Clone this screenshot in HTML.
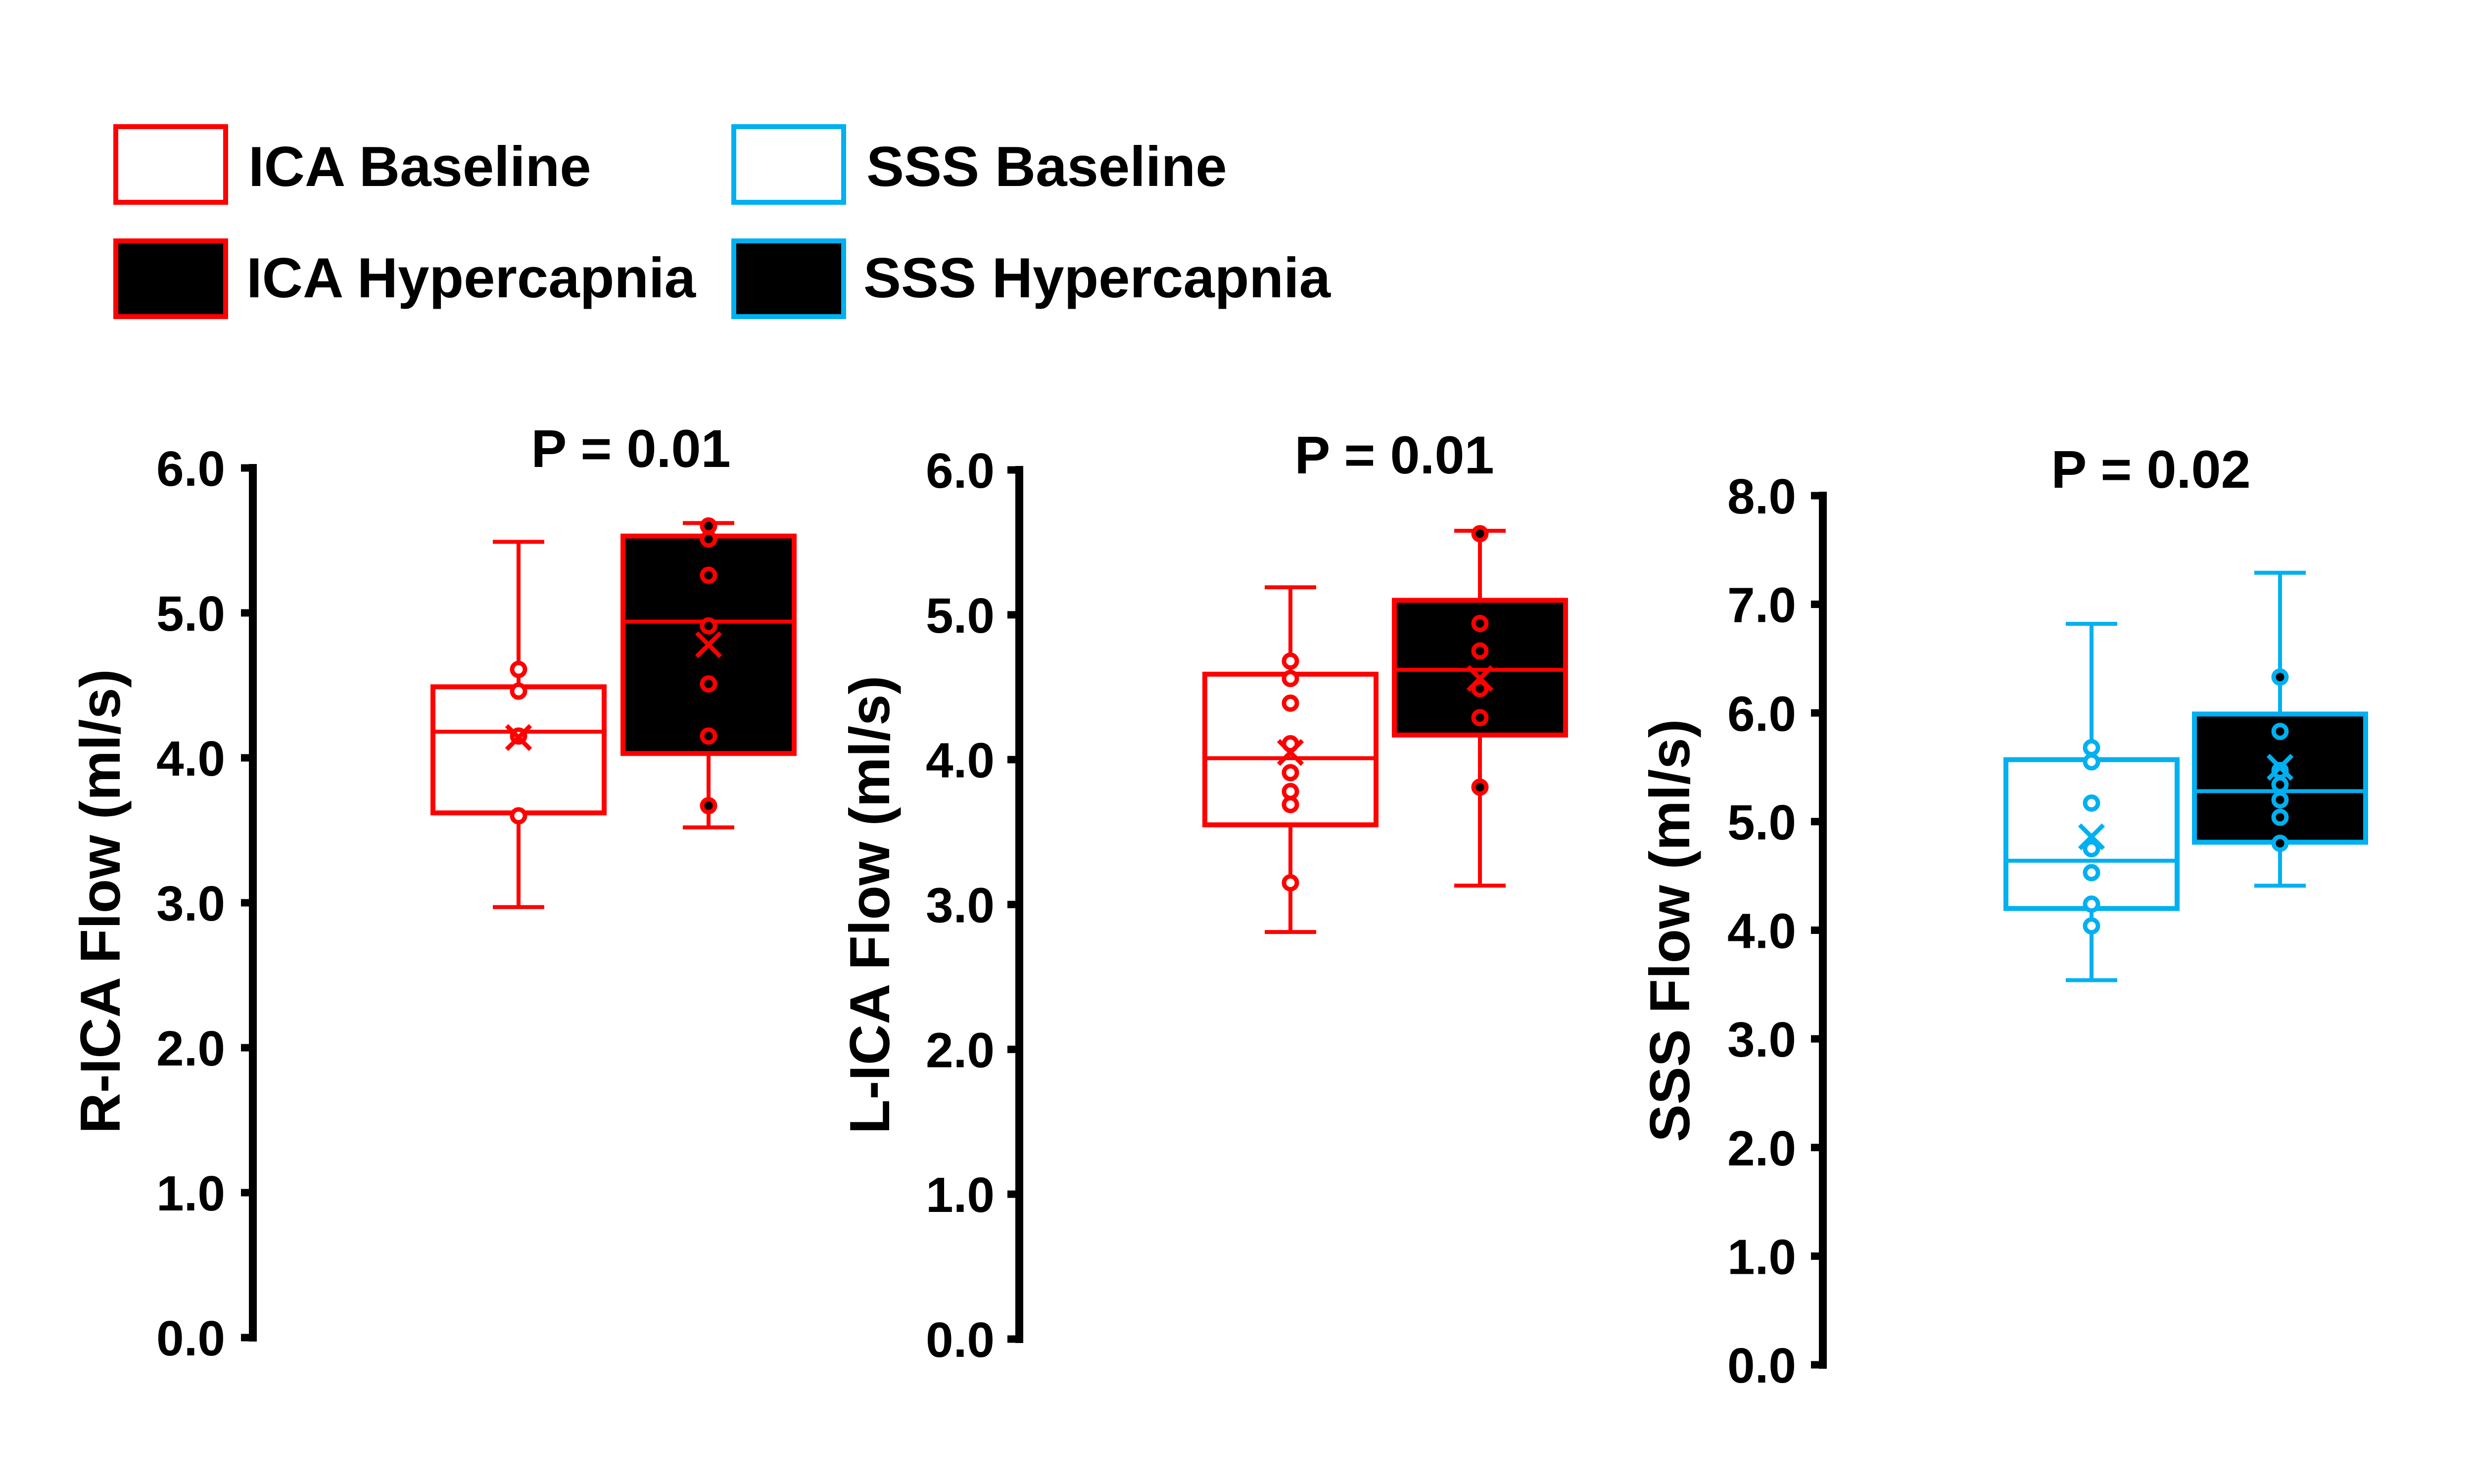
<!DOCTYPE html>
<html><head><meta charset="utf-8"><style>
html,body{margin:0;padding:0;background:#fff;}
svg{display:block;font-family:"Liberation Sans",Arial,sans-serif;font-weight:bold;}
</style></head><body>
<svg id="fig" width="5100" height="3000" viewBox="0 0 5100 3000" xmlns="http://www.w3.org/2000/svg">
<rect width="5100" height="3000" fill="#fff"/>
<g>
  <g>
    <rect x="234" y="256" width="222" height="153" fill="#fff" stroke="#ff0000" stroke-width="10"/>
    <text x="502" y="376" font-size="114">ICA Baseline</text>
  </g>
  <g>
    <rect x="234" y="487" width="222" height="153" fill="#000" stroke="#ff0000" stroke-width="10"/>
    <text x="498" y="601" font-size="114">ICA Hypercapnia</text>
  </g>
  <g>
    <rect x="1483" y="256" width="222" height="153" fill="#fff" stroke="#00b0f0" stroke-width="10"/>
    <text x="1751" y="376" font-size="114">SSS Baseline</text>
  </g>
  <g>
    <rect x="1483" y="487" width="222" height="153" fill="#000" stroke="#00b0f0" stroke-width="10"/>
    <text x="1745" y="601" font-size="114">SSS Hypercapnia</text>
  </g>
</g>
<g id="charts"></g>
</svg>
<script>
// Chart 1: R-ICA
const ricaBaseStats = [2.97, 3.62, 4.18, 4.49, 5.49]; // min,q1,median,q3,max
const ricaBaseMean = 4.14;
const ricaBasePoints = [4.61, 4.46, 4.15, 3.60];
const ricaHypStats = [3.52, 4.03, 4.94, 5.53, 5.62];
const ricaHypMean = 4.78;
const ricaHypPoints = [5.60, 5.51, 5.26, 4.91, 4.51, 4.15, 3.67];
// Chart 2: L-ICA
const licaBaseStats = [2.81, 3.55, 4.01, 4.59, 5.19];
const licaBaseMean = 4.05;
const licaBasePoints = [4.68, 4.56, 4.39, 4.11, 3.91, 3.78, 3.69, 3.15];
const licaHypStats = [3.13, 4.17, 4.62, 5.10, 5.58];
const licaHypMean = 4.56;
const licaHypPoints = [5.56, 4.94, 4.75, 4.49, 4.29, 3.81];
// Chart 3: SSS
const sssBaseStats = [3.54, 4.20, 4.64, 5.57, 6.82];
const sssBaseMean = 4.86;
const sssBasePoints = [5.68, 5.55, 5.17, 4.75, 4.53, 4.24, 4.04];
const sssHypStats = [4.41, 4.81, 5.28, 5.99, 7.29];
const sssHypMean = 5.50;
const sssHypPoints = [6.33, 5.83, 5.47, 5.34, 5.20, 5.04, 4.80];
// tick labels
const ticks6 = ["0.0","1.0","2.0","3.0","4.0","5.0","6.0"];
const ticks8 = ["0.0","1.0","2.0","3.0","4.0","5.0","6.0","7.0","8.0"];
const pLabels = ["P = 0.01","P = 0.01","P = 0.02"];
const yTitles = ["R-ICA Flow (ml/s)","L-ICA Flow (ml/s)","SSS Flow (ml/s)"];

const NS = "http://www.w3.org/2000/svg";
const root = document.getElementById('charts');
function mk(tag, attrs, parent){const e=document.createElementNS(NS,tag);for(const k in attrs)e.setAttribute(k,attrs[k]);parent.appendChild(e);return e;}

const layouts = [
 {key:'r-ica', axisX:511, yTop:946, yBot:2704, max:6, ticks:ticks6, centers:[1048,1432], color:'#ff0000', labelRight:455, titleX:1275, titleY:944, ytx:202, yty:1822, series:[[ricaBaseStats,ricaBaseMean,ricaBasePoints],[ricaHypStats,ricaHypMean,ricaHypPoints]]},
 {key:'l-ica', axisX:2060, yTop:950, yBot:2707, max:6, ticks:ticks6, centers:[2608,2991], color:'#ff0000', labelRight:2010, titleX:2818, titleY:957, ytx:1757, yty:1829, series:[[licaBaseStats,licaBaseMean,licaBasePoints],[licaHypStats,licaHypMean,licaHypPoints]]},
 {key:'sss', axisX:3684, yTop:1002, yBot:2759, max:8, ticks:ticks8, centers:[4227,4608], color:'#00b0f0', labelRight:3630, titleX:4347, titleY:986, ytx:3374, yty:1881, series:[[sssBaseStats,sssBaseMean,sssBasePoints],[sssHypStats,sssHypMean,sssHypPoints]]}
];

layouts.forEach((L,ci)=>{
  const g = mk('g',{},root);
  
  
  const y = v => L.yBot - (L.yBot-L.yTop)*v/L.max;
  const ax = mk('line',{x1:L.axisX,x2:L.axisX,y1:L.yTop-8,y2:L.yBot+8,stroke:'#000','stroke-width':16},g);
  
  
  L.ticks.forEach((t,i)=>{
    const v = i;
    const tk = mk('line',{x1:L.axisX-24,x2:L.axisX,y1:y(v),y2:y(v),stroke:'#000','stroke-width':15},g);
    
    
    const tl = mk('text',{x:L.labelRight,y:y(v)+36,'text-anchor':'end','font-size':100},g);
    tl.textContent = t;
    
    
  });
  const tt = mk('text',{x:L.titleX,y:L.titleY,'text-anchor':'middle','font-size':108},g);
  tt.textContent = pLabels[ci];
  
  
  const yt = mk('text',{x:0,y:0,'text-anchor':'middle','font-size':114,transform:`translate(${L.ytx+40},${L.yty}) rotate(-90)`},g);
  yt.textContent = yTitles[ci];
  
  

  L.series.forEach((s,si)=>{
    const [st, mean, pts] = s;
    const cx = L.centers[si];
    const hw = 173, cw = 52;
    const bg = mk('g',{},g);
    
    
    mk('line',{x1:cx,x2:cx,y1:y(st[4]),y2:y(st[0]),stroke:L.color,'stroke-width':8},bg);
    mk('line',{x1:cx-cw,x2:cx+cw,y1:y(st[4]),y2:y(st[4]),stroke:L.color,'stroke-width':8},bg);
    mk('line',{x1:cx-cw,x2:cx+cw,y1:y(st[0]),y2:y(st[0]),stroke:L.color,'stroke-width':8},bg);
    mk('rect',{x:cx-hw,y:y(st[3]),width:2*hw,height:y(st[1])-y(st[3]),fill:si?'#000':'#fff',stroke:L.color,'stroke-width':10},bg);
    mk('line',{x1:cx-hw,x2:cx+hw,y1:y(st[2]),y2:y(st[2]),stroke:L.color,'stroke-width':8},bg);
    pts.forEach(p=>{
      const c = mk('circle',{cx:cx,cy:y(p),r:13,fill:si?'#000':'#fff',stroke:L.color,'stroke-width':9},bg);
      
      
    });
    const my = y(mean), d = 24;
    const mx = mk('path',{d:`M${cx-d},${my-d}L${cx+d},${my+d}M${cx-d},${my+d}L${cx+d},${my-d}`,stroke:L.color,'stroke-width':9,fill:'none'},bg);
    
    
  });
});
</script>
</body></html>
